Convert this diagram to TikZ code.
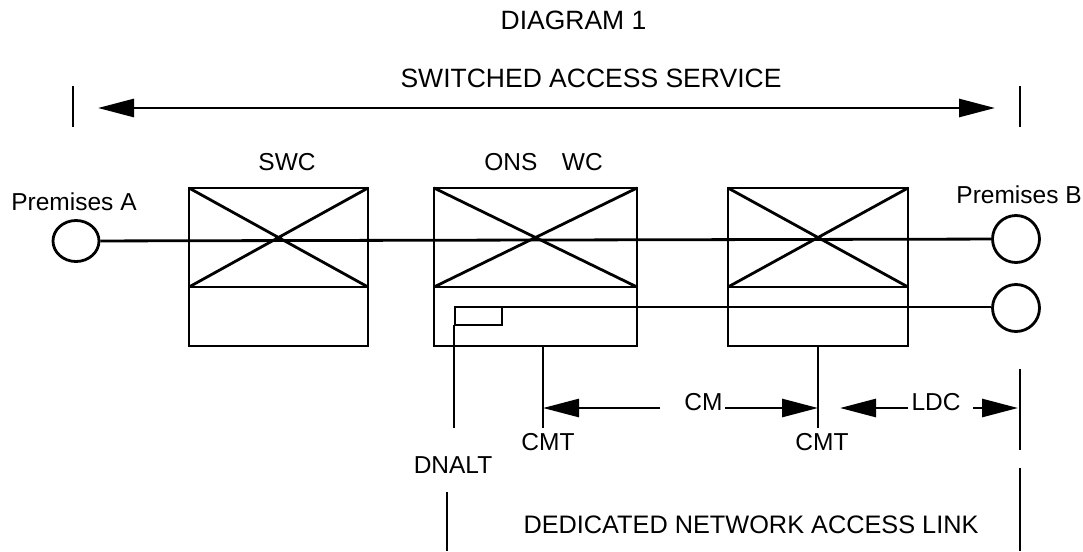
\documentclass[tikz,border=0pt]{standalone}
\usepackage{fontspec}
\setmainfont{Liberation Sans}
\usetikzlibrary{arrows.meta,shapes.geometric,positioning}

\tikzset{
  lbl/.style={font=\fontsize{24.5}{29}\selectfont, inner sep=0pt, anchor=base},
  head/.style={lbl, font=\fontsize{26.5}{31}\selectfont},
  swbox/.style={draw, rectangle, inner sep=0pt, outer sep=0pt, minimum height=99pt},
  lowbox/.style={draw, rectangle, inner sep=0pt, outer sep=0pt, minimum height=59pt, anchor=north},
  prem/.style={draw, circle, inner sep=0pt, minimum size=47pt},
}

\begin{document}
\begin{tikzpicture}[
                    x=1pt, y=-1pt,
                    line width=2.8pt,
                    >={Triangle[length=36pt,width=18pt]}]

                \useasboundingbox (0,0) rectangle (1083,551);

                % headings
                \node[head] (title) at (573.5,30) {DIAGRAM 1};
                \node[head] (sas) at (591,87) {SWITCHED ACCESS SERVICE};
                \node[lbl, font=\fontsize{25.3}{30}\selectfont] (dnal) at (751,533) {DEDICATED NETWORK ACCESS LINK};

                % switches
                \node[swbox, minimum width=179pt] (swc) at (278.5,237.5) {};
                \node[lowbox, minimum width=179pt] (swcl) at (swc.south) {};
                \node[swbox, minimum width=203pt] (ons) at (535.5,237.5) {};
                \node[lowbox, minimum width=203pt] (onsl) at (ons.south) {};
                \node[swbox, minimum width=180pt] (rsw) at (818,237.5) {};
                \node[lowbox, minimum width=180pt] (rswl) at (rsw.south) {};
                \draw (swc.north west) -- (swc.south east) (swc.south west) -- (swc.north east);
                \draw (ons.north west) -- (ons.south east) (ons.south west) -- (ons.north east);
                \draw (rsw.north west) -- (rsw.south east) (rsw.south west) -- (rsw.north east);

                \node[lbl] (swclab) at (287,170) {SWC};
                \node[lbl] (onslab) at (543.5,170) {ONS\quad WC};

                % premises
                \node[draw, ellipse, inner sep=0pt, minimum width=46pt, minimum height=41pt] (premA) at (76,241) {};
                \node[prem] (premB) at (1016,239) {};
                \node[prem] (premC) at (1016,308) {};
                \node[lbl] (premAlab) at (74,210) {Premises A};
                \node[lbl, anchor=base west] (premBlab) at (955,203) {Premises B};
                \draw (premA) -- (premB);

                % DNALT
                \node[draw, rectangle, inner sep=0pt, outer sep=0pt, minimum width=47pt, minimum height=18pt] (dnalt) at (478.5,316) {};
                \draw (dnalt.north) -- (premC.west |- dnalt.north);
                \coordinate (dnaltend) at (454,428);
                \draw (dnalt.south west -| dnaltend) -- (dnaltend);
                \node[lbl] (dnaltlab) at (453,473) {DNALT};

                % CMT
                \coordinate (cmtA) at (543,428);
                \coordinate (cmtB) at (818,428);
                \draw (onsl.south -| cmtA) -- (cmtA);
                \draw (rswl.south) -- (cmtB);
                \node[lbl] (cmtAlab) at (548,450) {CMT};
                \node[lbl] (cmtBlab) at (822,450) {CMT};

                % CM and LDC
                \node[lbl] (cm) at (703.5,410) {CM};
                \node[lbl] (ldc) at (936,410) {LDC};
                \coordinate (cmL) at (660,408);
                \coordinate (cmR) at (725,408);
                \draw[->] (cmL) -- (cmtA |- cmL);
                \draw[->] (cmR) -- (cmtB |- cmR);
                \coordinate (ldcL) at (908,408);
                \coordinate (ldcLtip) at (840,408);
                \coordinate (ldcR) at (973,408);
                \coordinate (ldcRtip) at (1018,408);
                \draw[->] (ldcL) -- (ldcLtip);
                \draw[->] (ldcR) -- (ldcRtip);

                % limit bars
                \coordinate (sasL) at (98,108);
                \coordinate (sasR) at (995,108);
                \draw[<->] (sasL) -- (sasR);
                \draw (73,86) -- (73,127);
                \draw (1020,86) -- (1020,127);
                \draw (1020,369) -- (1020,450);
                \draw (1020,468) -- (1020,551);
                \draw (447,492) -- (447,551);

            \end{tikzpicture}
\end{document}
